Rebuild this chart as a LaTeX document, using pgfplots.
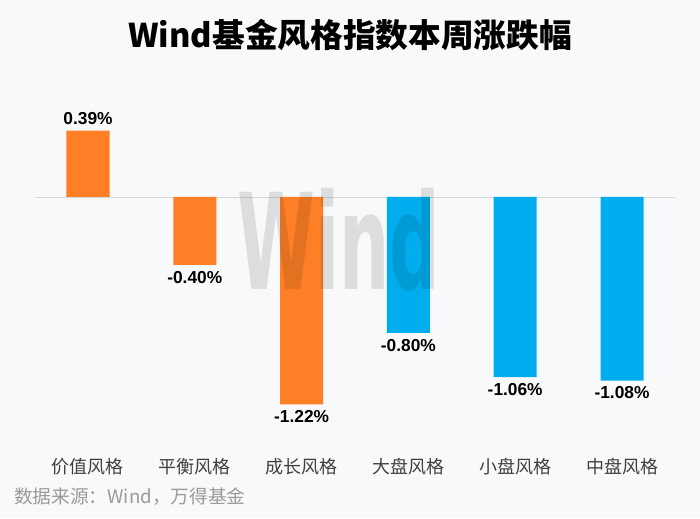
\documentclass[border=0pt]{standalone}
\usepackage{pgfplots}
\pgfplotsset{compat=1.18}
\usepackage{fontspec}
\setmainfont{Liberation Sans}
\newfontfamily\cjk{Noto Sans CJK SC}
\newfontfamily\wm{DejaVu Sans}
\definecolor{bgc}{HTML}{F8F9FB}
\definecolor{orangebar}{HTML}{FF7F27}
\definecolor{bluebar}{HTML}{00AEEF}
\definecolor{labgray}{HTML}{404040}
\definecolor{srcgray}{HTML}{9A9A9A}
\begin{document}
\begin{tikzpicture}[x=1pt,y=1pt]
\fill[bgc] (0,0) rectangle (525,388.5);
\node[font=\cjk\bfseries\fontsize{24.5}{28}\selectfont] at (262.5,362) {Wind基金风格指数本周涨跌幅};
\node[anchor=west,text=srcgray,font=\cjk\fontsize{14}{16}\selectfont,inner sep=0] at (10.5,15.75) {数据来源：Wind，万得基金};
\begin{axis}[
    at={(25.95pt,49.5pt)}, anchor=south west,
    scale only axis, width=480.6pt, height=267.75pt,
    xmin=-0.5, xmax=5.5, ymin=-1.5, ymax=0.6,
    axis line style={draw=none},
    major tick length=0pt,
    ytick=\empty,
    xtick={0,1,2,3,4,5},
    xticklabels={价值风格,平衡风格,成长风格,大盘风格,小盘风格,中盘风格},
    xticklabel style={font=\cjk\fontsize{13.5}{16}\selectfont, text=labgray, yshift=-1pt},
    ybar, bar width=32.25pt, bar shift=0pt,
    nodes near coords={\pgfmathprintnumber[fixed,precision=2,fixed zerofill,assume math mode=true]{\pgfplotspointmeta}\%},
    nodes near coords style={font=\bfseries\fontsize{13}{15}\selectfont, text=black, inner sep=4.5pt},
    clip=false,
]
\draw[black!15, line width=0.6pt] (axis cs:-0.5,0) -- (axis cs:5.5,0);
\addplot[fill=orangebar, draw=none] coordinates {(0,0.39) (1,-0.40) (2,-1.22)};
\addplot[fill=bluebar, draw=none] coordinates {(3,-0.80) (4,-1.06) (5,-1.08)};
\node[text=black, opacity=0.11, font=\wm\bfseries\fontsize{100}{100}\selectfont, xscale=0.53] at (axis cs:2.35,-0.25) {Wind};
\end{axis}
\end{tikzpicture}
\end{document}
